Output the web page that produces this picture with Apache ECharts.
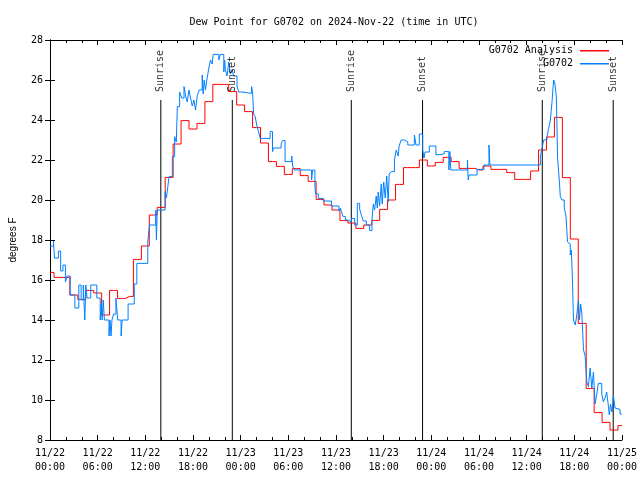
<!DOCTYPE html>
<html>
<head>
<meta charset="utf-8">
<script src="https://cdn.jsdelivr.net/npm/echarts@6/dist/echarts.min.js"></script>
<style>
html,body{margin:0;padding:0;background:#fff;}
#chart{width:640px;height:480px;}
</style>
</head>
<body>
<div id="chart"></div>
<script>
const chartTitle = 'Dew Point for G0702 on 2024-Nov-22 (time in UTC)';
const yAxisName = 'degrees F';
const xTickLabels = ['11/22\n00:00','11/22\n06:00','11/22\n12:00','11/22\n18:00','11/23\n00:00','11/23\n06:00','11/23\n12:00','11/23\n18:00','11/24\n00:00','11/24\n06:00','11/24\n12:00','11/24\n18:00','11/25\n00:00'];
const seriesNames = ['G0702 Analysis', 'G0702'];

// Analysis: hourly values, hours 0..72 from 11/22 00:00 UTC
const analysisValues = [16.38,16.13,16.13,15.25,15.03,15.48,15.35,14.25,15.48,15.08,15.18,17.03,17.7,19.25,19.63,21.13,22.8,23.97,23.55,23.83,24.92,25.78,25.78,25.42,24.75,24.42,23.62,22.85,21.92,21.68,21.28,21.57,21.22,20.93,20.03,19.75,19.5,18.97,18.85,18.58,18.75,18.98,19.53,20.0,20.78,21.62,21.62,22.0,21.7,21.88,22.13,21.92,21.58,21.58,21.5,21.7,21.53,21.53,21.37,21.03,21.03,21.45,22.5,23.15,24.13,21.12,18.05,13.83,10.58,9.37,8.88,8.5,8.72];

// Observations: hours since 11/22 00:00 UTC and values
const obsHours = [0,0.44,0.56,1.06,1.34,1.63,1.94,2.17,2.54,3.13,3.63,3.92,4.19,4.38,4.51,4.67,5.13,5.89,6.32,6.45,6.57,6.70,6.85,7.43,7.55,7.68,7.80,8.01,8.30,8.52,8.95,9.08,9.83,10.61,10.93,12.31,12.52,
13.31,13.40,13.49,14.49,14.65,14.78,14.99,15.40,15.69,15.90,16.03,16.32,16.57,16.87,17.07,17.28,17.49,17.69,17.91,18.12,18.32,18.53,18.78,19.16,19.28,19.41,19.57,19.78,20.00,20.20,20.41,20.54,21.25,21.45,21.88,21.98,22.08,22.29,22.50,22.70,22.92,23.13,23.54,23.75,24.17,25.38,25.51,25.63,25.83,26.05,26.26,
26.46,27.71,28.01,28.14,29.09,29.26,29.59,30.43,30.55,30.77,32.93,33.06,33.35,33.43,33.77,34.40,35.44,36.38,36.56,36.69,36.90,37.19,37.53,37.94,38.35,38.69,38.98,39.19,39.44,39.82,40.23,40.53,40.70,40.86,41.07,41.20,41.32,41.49,41.70,41.82,42.01,42.20,42.39,42.57,42.70,42.95,43.36,43.58,43.83,43.95,44.20,44.62,45.04,45.87,46.08,46.49,46.92,
47.08,47.21,47.75,48.58,48.80,49.62,50.21,50.34,50.46,52.55,52.65,52.75,53.76,54.63,55.26,55.38,61.73,
61.95,62.15,62.57,62.77,62.99,63.20,63.40,63.57,63.74,63.90,64.11,64.24,64.45,64.74,64.95,65.15,65.30,65.49,65.62,65.74,65.90,66.12,66.30,66.53,66.65,66.80,66.95,67.16,67.37,67.58,67.78,67.99,68.21,68.41,68.62,68.83,69.03,69.46,69.66,69.87,70.08,70.29,70.41,70.56,70.75,70.92,71.13,71.35,71.76,72.0];
const obsValues = [17.7,17.95,17.1,17.45,16.45,16.75,15.9,16.2,15.25,14.6,15.75,15.0,15.75,14.0,15.75,15.1,15.75,15.1,14.0,14.8,14.0,15.0,14.0,13.2,14.0,13.2,14.0,14.3,15.1,14.0,13.2,14.0,14.8,15.8,16.83,17.9,18.75,
19.5,18.0,19.5,20.42,20.1,20.5,21.17,22.17,23.17,22.9,24.67,25.4,25.1,25.67,25.2,24.9,25.5,25.1,24.7,25.0,24.5,25.2,25.5,26.25,25.3,26.0,25.5,26.1,26.6,27.0,26.8,27.28,27.0,27.28,26.4,27.0,26.5,26.2,26.9,26.3,26.5,26.2,25.7,25.4,25.33,25.67,25.33,24.3,24.17,23.7,23.4,
23.08,23.42,22.42,22.6,22.8,22.97,21.92,22.2,21.7,21.5,21.0,21.5,20.67,20.3,20.08,19.95,19.7,19.45,19.6,19.42,19.17,19.0,18.9,19.08,18.75,19.83,19.55,19.25,18.95,18.75,18.47,19.0,19.8,19.5,20.2,19.6,20.4,19.7,20.8,19.8,20.9,20.1,21.2,19.9,21.3,21.42,22.0,22.5,22.2,22.7,23.0,22.9,22.75,23.25,22.75,23.3,22.5,
22.1,22.4,22.7,22.25,22.3,22.42,21.5,22.42,21.5,22.0,21.0,21.25,21.53,21.75,22.75,21.75,22.2,
22.6,23.0,23.17,23.58,24.0,24.92,26.0,25.8,25.17,22.08,21.0,20.17,20.0,19.6,19.2,17.9,17.8,17.25,17.5,16.4,14.0,13.75,14.2,15.0,14.0,14.8,14.35,12.5,12.2,10.9,10.67,11.6,10.6,11.4,9.8,10.3,10.83,10.3,9.9,10.1,10.4,9.7,9.25,9.8,9.4,10.25,9.6,9.53,9.3,9.3];

// Sun events (hours since 11/22 00:00 UTC)
const sunHours = [13.95, 22.95, 37.93, 46.9, 61.97, 70.9];
const sunLabels = ['Sunrise','Sunset','Sunrise','Sunset','Sunrise','Sunset'];
const sunLineTop = 25;

const mono = 'DejaVu Sans Mono';
const chart = echarts.init(document.getElementById('chart'), null, {renderer:'canvas'});

const sunLineSeries = sunHours.map(h => ({
  type:'line', xAxisIndex:0, yAxisIndex:0, silent:true, showSymbol:false,
  data:[[h,8],[h,sunLineTop]],
  lineStyle:{color:'#000', width:1}, itemStyle:{color:'#000'}, z:1
}));

const option = {
  animation:false,
  backgroundColor:'#fff',
  title:{text:chartTitle, left:329, top:12, textAlign:'center',
    textStyle:{fontFamily:mono, fontSize:10, fontWeight:'normal', color:'#000'}},
  legend:{data:seriesNames, orient:'vertical', right:26, top:40, align:'right',
    itemWidth:29, itemHeight:1.5, itemGap:1.5, icon:'rect', selectedMode:false,
    textStyle:{fontFamily:mono, fontSize:10, color:'#000', lineHeight:11.5, padding:[0,2,0,0]}},
  grid:{left:47, right:18, top:40, bottom:40, containLabel:false},
  xAxis:[{
    type:'value', min:0, max:72, interval:6, position:'bottom',
    axisLine:{show:true, lineStyle:{color:'#000', width:1}},
    axisTick:{show:true, inside:true, length:5, lineStyle:{color:'#000'}},
    minorTick:{show:true, splitNumber:3, length:3, lineStyle:{color:'#000'}},
    splitLine:{show:false},
    axisLabel:{margin:6, fontFamily:mono, fontSize:10, color:'#000', lineHeight:14,
      showMinLabel:true, showMaxLabel:true,
      formatter:v => xTickLabels[Math.round(v/6)]}
  },{
    type:'value', min:0, max:72, interval:6, position:'top',
    axisLine:{show:true, lineStyle:{color:'#000', width:1}},
    axisTick:{show:true, inside:true, length:5, lineStyle:{color:'#000'}},
    minorTick:{show:true, splitNumber:3, length:3, lineStyle:{color:'#000'}},
    splitLine:{show:false}, axisLabel:{show:false}
  }],
  yAxis:[{
    type:'value', min:8, max:28, interval:2, position:'left',
    name:yAxisName, nameLocation:'middle', nameRotate:90, nameGap:32,
    nameTextStyle:{fontFamily:'Liberation Sans', fontSize:10, color:'#000'},
    axisLine:{show:true, lineStyle:{color:'#000', width:1}},
    axisTick:{show:true, inside:true, length:5, lineStyle:{color:'#000'}},
    splitLine:{show:false},
    axisLabel:{margin:7, fontFamily:mono, fontSize:10, color:'#000'}
  },{
    type:'value', min:8, max:28, interval:2, position:'right',
    axisLine:{show:true, lineStyle:{color:'#000', width:1}},
    axisTick:{show:true, inside:true, length:5, lineStyle:{color:'#000'}},
    splitLine:{show:false}, axisLabel:{show:false}
  }],
  series:[
    ...sunLineSeries,
    {
      type:'scatter', silent:true, symbolSize:0, z:5,
      data:sunHours.map((h,i) => ({value:[h, sunLineTop], name:sunLabels[i]})),
      label:{show:true, formatter:p => p.name, position:'top', distance:8, rotate:90,
        align:'left', verticalAlign:'middle', fontFamily:mono, fontSize:10, color:'#000'}
    },
    {
      name:seriesNames[0], type:'line', step:'middle', showSymbol:false, silent:true,
      data:analysisValues.map((v,i) => [i, v]),
      lineStyle:{color:'#ff0000', width:1}, itemStyle:{color:'#ff0000'}, z:3
    },
    {
      name:seriesNames[1], type:'line', step:'end', showSymbol:false, silent:true,
      data:obsHours.map((h,i) => [h, obsValues[i]]),
      lineStyle:{color:'#0080ff', width:1}, itemStyle:{color:'#0080ff'}, z:4
    }
  ]
};
chart.setOption(option);
</script>
</body>
</html>
